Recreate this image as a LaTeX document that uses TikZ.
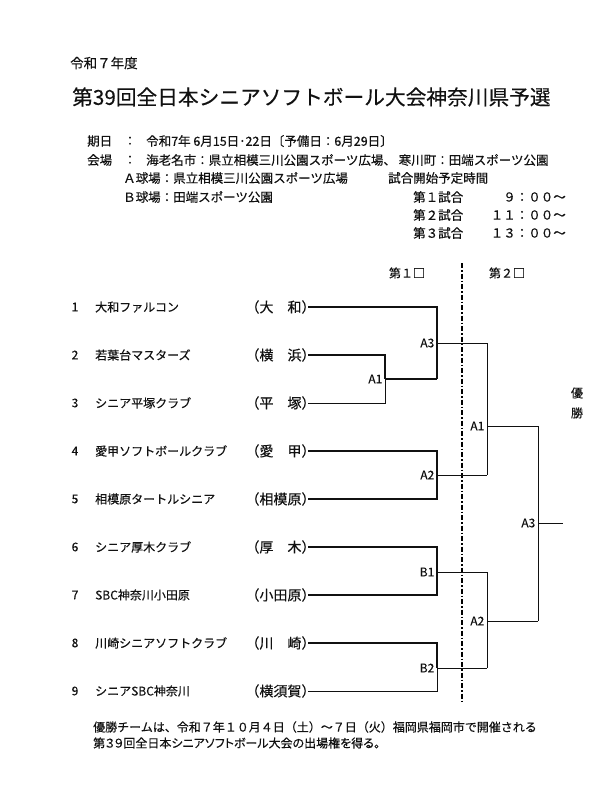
\documentclass[tikz,border=0pt]{standalone}
\usepackage{fontspec}
\setmainfont{Noto Sans CJK JP}[FakeBold=0.3]
\usepackage{tikz}
\usetikzlibrary{positioning, calc}
\definecolor{inkgray}{HTML}{111111}

\tikzset{
  basetext/.style={inkgray, inner sep=0pt, font=\fontsize{12}{12}\selectfont},
  infotext/.style={basetext, anchor=west, font=\fontsize{12.5}{12.5}\selectfont},
  teamname/.style={basetext, anchor=west},
  hometown/.style={basetext, anchor=east, outer xsep=-7.5pt, font=\fontsize{14}{14}\selectfont},
  matchlabel/.style={basetext, anchor=east, inner xsep=2.5pt},
  wire/.style={inkgray, line width=0.9pt},
  winwire/.style={inkgray, line width=1.6pt},
  dayline/.style={black, line width=1.8pt, dash pattern=on 5pt off 2pt on 1.5pt off 2pt}
}

\begin{document}
\begin{tikzpicture}[x=1pt, y=-1pt]
  \fill[white] (0,0) rectangle (616,788);
  \useasboundingbox (0,0) rectangle (616,788);

  % heading
  \node[basetext, anchor=west, font=\fontsize{13.5}{13.5}\selectfont] (year) at (70,63) {令和７年度};
  \node[basetext, anchor=west, font=\fontsize{20.7}{20.7}\selectfont] (title) at (72,97) {第39回全日本シニアソフトボール大会神奈川県予選};

  % dates and grounds
  \node[infotext] (datekey) at (87,141) {期日};
  \node[basetext, font=\fontsize{12.5}{12.5}\selectfont] (datecolon) at (130,141) {：};
  \node[infotext] (date) at (146,141) {令和7年 6月15日･22日〔予備日：6月29日〕};
  \node[infotext] (sitekey) at (87,160) {会場};
  \node[basetext, font=\fontsize{12.5}{12.5}\selectfont] (sitecolon) at (130,160) {：};
  \node[infotext] (site) at (146,160) {海老名市：県立相模三川公園スポーツ広場、 寒川町：田端スポーツ公園};
  \node[infotext] (grounda) at (123,178) {Ａ球場：県立相模三川公園スポーツ広場};
  \node[infotext] (groundb) at (123,197) {Ｂ球場：田端スポーツ公園};
  \node[infotext] (timekey) at (388,178) {試合開始予定時間};
  \foreach \g/\t [count=\i from 0] in {１/９：００～, ２/１１：００～, ３/１３：００～}{
    \node[infotext] (game\g) at (413,197+18*\i) {第\g 試合};
    \node[infotext, anchor=east] (time\g) at (566,197+18*\i) {\t};
  }

  % rounds
  \node[basetext] (day1) at (407,273) {第１□};
  \node[basetext] (day2) at (507,273) {第２□};
  \coordinate (daytop) at (462,263);
  \coordinate (daybot) at (462,703);
  \draw[dayline] (daytop) -- (daybot);

  % teams
  \foreach \k/\team/\home [count=\i from 0] in {
      1/大和ファルコン/（大　和）,
      2/若葉台マスターズ/（横　浜）,
      3/シニア平塚クラブ/（平　塚）,
      4/愛甲ソフトボールクラブ/（愛　甲）,
      5/相模原タートルシニア/（相模原）,
      6/シニア厚木クラブ/（厚　木）,
      7/SBC神奈川小田原/（小田原）,
      8/川崎シニアソフトクラブ/（川　崎）,
      9/シニアSBC神奈川/（横須賀）}{
    \node[basetext] (n\k) at (75,307+48*\i) {\k};
    \node[teamname] (t\k) at (95,307+48*\i) {\team};
    \node[hometown] (h\k) at (308,307+48*\i) {\home};
  }

  % match points
  \coordinate (ma1) at (385,379);
  \coordinate (ma3) at (437,343);
  \coordinate (ma2) at (437,475);
  \coordinate (mb1) at (437,572);
  \coordinate (mb2) at (437,668);
  \coordinate (sa1) at (487,426);
  \coordinate (sa2) at (487,621);
  \coordinate (fa3) at (538,523);
  \coordinate (champ) at (563,523);

  % first day
  \draw[winwire] (h2.east) -| (ma1);
  \draw[wire] (h3.east) -| (ma1);
  \draw[winwire] (ma1) -- (ma1 -| ma3);
  \draw[winwire] (h1.east) -| (ma1 -| ma3);
  \draw[wire] (ma3) -- (ma3 -| sa1);
  \draw[winwire] (h4.east) -| (ma2) |- (h5.east);
  \draw[wire] (ma2) -- (ma2 -| sa1);
  \draw[winwire] (h6.east) -| (mb1) |- (h7.east);
  \draw[wire] (mb1) -- (mb1 -| sa2);
  \draw[winwire] (h8.east) -| (mb2);
  \draw[wire] (h9.east) -| (mb2);
  \draw[wire] (mb2) -- (mb2 -| sa2);

  % second day
  \draw[wire] (ma3 -| sa1) -- (ma2 -| sa1);
  \draw[wire] (sa1) -- (sa1 -| fa3);
  \draw[wire] (mb1 -| sa2) -- (mb2 -| sa2);
  \draw[wire] (sa2) -- (sa2 -| fa3);
  \draw[wire] (sa1 -| fa3) -- (sa2 -| fa3);
  \draw[wire] (fa3) -- (champ);

  \node[matchlabel] (la1) at (ma1) {A1};
  \node[matchlabel] (la3) at (ma3) {A3};
  \node[matchlabel] (la2) at (ma2) {A2};
  \node[matchlabel] (lb1) at (mb1) {B1};
  \node[matchlabel] (lb2) at (mb2) {B2};
  \node[matchlabel] (lsa1) at (sa1) {A1};
  \node[matchlabel] (lsa2) at (sa2) {A2};
  \node[matchlabel] (lfa3) at (fa3) {A3};
  \node[basetext, align=center, font=\fontsize{12}{20}\selectfont] (yusho) at (577,403) {優\\勝};

  % note
  \node[basetext, anchor=west] (note1) at (93,727) {優勝チームは、令和７年１０月４日（土）～７日（火）福岡県福岡市で開催される};
  \node[basetext, anchor=west, font=\fontsize{12}{12}\selectfont\addfontfeature{RawFeature=+palt}] (note2) at (93,743) {第３９回全日本シニアソフトボール大会の出場権を得る。};
\end{tikzpicture}
\end{document}
